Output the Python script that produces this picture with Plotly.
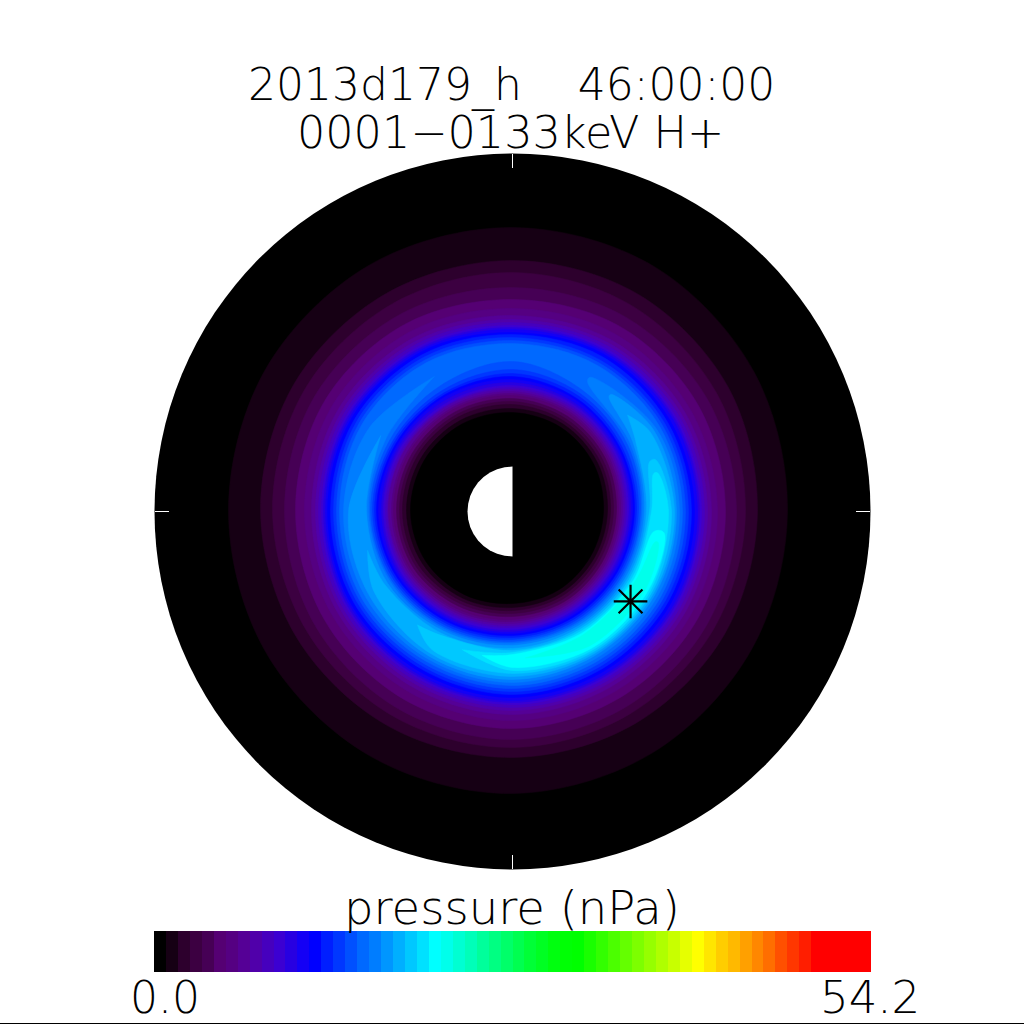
import plotly.graph_objects as go

# Azimuth samples (deg, counter-clockwise from east) for the closed contours
angles = [0, 30, 60, 90, 120, 150, 180, 210, 240, 270, 300, 330]

# Outer boundary of each pressure level (radial units = image scale, edge 358)
outer_1 = [275, 279, 283, 284, 285, 285, 284, 284, 283, 282, 279, 276]
outer_2 = [245, 249, 251, 251, 252, 253, 252, 250, 248, 246, 245, 245]
outer_3 = [233, 236, 238, 239, 240, 241, 240, 238, 237, 236, 234, 233]
outer_4 = [224, 225, 225, 224, 227, 229, 228, 228, 228, 228, 226, 225]
outer_5 = [213, 214, 214, 212, 216, 218, 217, 217, 217, 217, 215, 214]
outer_6 = [205, 205, 205, 203, 207, 209, 208, 208, 208, 209, 207, 206]
outer_7 = [199, 199, 198, 196, 200, 202, 201, 202, 202, 203, 201, 200]
outer_8 = [195, 195, 194, 192, 196, 198, 197, 198, 198, 199, 197, 196]
outer_9 = [192, 192, 191, 189, 193, 195, 194, 195, 195, 196, 194, 193]
outer_10 = [189, 189, 188, 186, 190, 192, 191, 192, 192, 193, 191, 190]
outer_11 = [187, 187, 186, 184, 188, 190, 189, 190, 190, 191, 189, 188]
outer_12 = [185, 185, 184, 182, 186, 188, 187, 188, 188, 189, 187, 186]
outer_13 = [182, 182, 182, 179, 184, 186, 185, 186, 185, 186, 184, 183]
outer_14 = [179, 179, 179, 177, 181, 183, 182, 183, 182, 183, 181, 180]
outer_15 = [176, 176, 175, 174, 178, 180, 179, 180, 179, 180, 178, 177]
outer_16 = [173, 173, 172, 171, 175, 177, 176, 177, 176, 177, 175, 174]
outer_17 = [170, 170, 169, 168, 172, 174, 173, 174, 173, 174, 172, 171]
outer_levels = [outer_1, outer_2, outer_3, outer_4, outer_5, outer_6, outer_7, outer_8, outer_9,
                outer_10, outer_11, outer_12, outer_13, outer_14, outer_15, outer_16, outer_17]

# Inner boundary of each pressure level
inner_1 = [91, 94, 97, 99, 101, 102, 102, 100, 96, 92, 91, 90]
inner_2 = [95, 98, 101, 103, 105, 106, 106, 104, 100, 96, 95, 94]
inner_3 = [98, 101, 104, 107, 109, 110, 110, 108, 103, 99, 98, 97]
inner_4 = [101, 104, 107, 110, 112, 113, 113, 111, 106, 102, 101, 100]
inner_5 = [104, 107, 110, 113, 115, 116, 116, 114, 109, 105, 104, 103]
inner_6 = [106, 109, 113, 116, 118, 119, 119, 117, 112, 108, 106, 105]
inner_7 = [108, 111, 115, 118, 120, 121, 121, 119, 114, 110, 108, 107]
inner_8 = [110, 113, 117, 120, 122, 124, 124, 121, 116, 112, 110, 109]
inner_9 = [112, 115, 119, 122, 124, 125, 125, 123, 118, 114, 112, 111]
inner_10 = [114, 117, 121, 124, 125, 127, 127, 125, 120, 116, 114, 113]
inner_11 = [116, 119, 123, 126, 127, 129, 129, 127, 122, 118, 116, 115]
inner_12 = [118, 121, 125, 129, 130, 131, 131, 129, 124, 120, 118, 117]
inner_13 = [120, 123, 128, 132, 133, 133, 134, 131, 126, 122, 120, 119]
inner_14 = [122, 125, 130, 135, 135, 135, 136, 133, 128, 124, 122, 121]
inner_15 = [124, 127, 133, 138, 137, 137, 138, 135, 130, 126, 124, 123]
inner_16 = [126, 130, 136, 142, 140, 139, 140, 137, 132, 128, 126, 125]
inner_17 = [128, 133, 140, 150, 145, 142, 142, 139, 134, 130, 128, 127]
inner_levels = [inner_1, inner_2, inner_3, inner_4, inner_5, inner_6, inner_7, inner_8, inner_9,
                inner_10, inner_11, inner_12, inner_13, inner_14, inner_15, inner_16, inner_17]

# Crescents of the levels that exist on only part of the ring: level, azimuths, outer, inner
crescent_18 = (18, [120, 150, 180, 210, 240, 270, 300, 330, 360, 390, 420],
               [156, 166, 169, 170, 170, 171, 169, 168, 167, 166, 155],
               [156, 146, 144, 141, 136, 132, 130, 129, 130, 136, 150])
crescent_19 = (19, [150, 180, 210, 240, 270, 300, 330, 360, 390, 410],
               [152, 164, 166, 167, 168, 166, 165, 164, 163, 153],
               [152, 146, 144, 138, 134, 132, 131, 132, 139, 150])
crescent_20 = (20, [195, 210, 240, 270, 300, 330, 360, 390, 400],
               [150, 160, 164, 165, 164, 163, 162, 159, 150],
               [150, 147, 141, 137, 134, 133, 134, 142, 150])
crescent_21 = (21, [230, 240, 270, 300, 330, 360, 380],
               [148, 160, 162, 162, 161, 159, 152],
               [148, 143, 139, 136, 135, 137, 146])
crescent_22 = (22, [250, 270, 300, 330, 360, 375],
               [147, 159, 160, 159, 156, 150],
               [147, 141, 138, 137, 139, 146])
crescent_23 = (23, [258, 270, 300, 330, 352],
               [147, 156, 158, 157, 153],
               [147, 143, 140, 139, 143])
crescent_24 = (24, [275, 300, 330, 348],
               [147, 155, 154, 149],
               [147, 142, 141, 146])
crescents = [crescent_18, crescent_19, crescent_20, crescent_21, crescent_22, crescent_23, crescent_24]

# Colour table of the 60 pressure levels
level_colors = [
    "#000000", "#160014", "#2d002d", "#3c0041", "#460055", "#550073", "#550082", "#550096", "#5000aa", "#4600be",
    "#3c00d2", "#2800e1", "#1400f5", "#0000ff", "#001eff", "#0037ff", "#0050ff", "#0069ff", "#007dff", "#0096ff",
    "#00afff", "#00c8ff", "#00e1ff", "#00ffff", "#00ffeb", "#00ffd2", "#00ffb9", "#00ff9b", "#00ff82", "#00ff69",
    "#00ff50", "#00ff37", "#00ff23", "#00ff0f", "#00ff05", "#00ff00", "#19ff00", "#32ff00", "#4bff00", "#64ff00",
    "#7dff00", "#96ff00", "#afff00", "#c8ff00", "#e6ff00", "#ffff00", "#ffe600", "#ffcd00", "#ffb900", "#ffa000",
    "#ff8700", "#ff6e00", "#ff5000", "#ff3700", "#ff1e00", "#ff0000", "#ff0000", "#ff0000", "#ff0000", "#ff0000",
]
colorbar_levels = list(range(60))

earth_r = [0, 45, 45, 45, 45, 45, 45, 45, 45, 45, 45, 45, 45, 45, 45, 45, 45, 45, 45, 45, 0]
earth_theta = [0, 90, 100, 110, 120, 130, 140, 150, 160, 170, 180, 190, 200, 210, 220, 230, 240, 250, 260, 270, 0]

satellite_r = [148.4]
satellite_theta = [322.7]

title_line_1 = "2013d179_h\u00a0\u00a0\u00a0\u00a046:00:00"
title_line_2 = "0001\u22120133keV H+"
colorbar_title = "pressure (nPa)"
colorbar_min = "0.0"
colorbar_max = "54.2"

R_MAX = 358
W = 1024
CX, CY = 512.5, 511.5
FONT = "DejaVu Sans"


def band(r, theta, color, shape="spline"):
    return go.Scatterpolar(r=r, theta=theta, mode="lines", fill="toself", fillcolor=color,
                           line=dict(color=color, width=0.5, shape=shape, smoothing=1.0),
                           hoverinfo="skip", showlegend=False)


fig = go.Figure()

# rising side of the ring: outer contours, lowest level first
for k, r in enumerate(outer_levels, start=1):
    fig.add_trace(band(r + r[:1], angles + [360], level_colors[k]))
# partial crescents around the ridge
for k, th, ro, ri in crescents:
    fig.add_trace(band(ro + ri[::-1] + ro[:1], th + th[::-1] + th[:1], level_colors[k]))
# falling side: inner contours, highest level first
for k, r in reversed(list(enumerate(inner_levels, start=1))):
    fig.add_trace(band(r + r[:1], angles + [360], level_colors[k - 1]))

fig.add_trace(go.Scatterpolar(r=earth_r, theta=earth_theta, mode="lines", fill="toself", fillcolor="#ffffff",
                              line=dict(color="#ffffff", width=0), hoverinfo="skip", showlegend=False))
fig.add_trace(go.Scatterpolar(r=satellite_r, theta=satellite_theta, mode="markers",
                              marker=dict(symbol="asterisk-open", size=28, color="#000000",
                                          line=dict(color="#000000", width=2.2)),
                              hoverinfo="skip", showlegend=False))

fig.add_trace(go.Heatmap(z=[colorbar_levels], x=colorbar_levels, y=[0], zmin=0, zmax=59,
                         colorscale=[[i / 59, c] for i, c in enumerate(level_colors)],
                         showscale=False, hoverinfo="skip", xaxis="x", yaxis="y"))

def text(x, y, s, size):
    fig.add_annotation(xref="paper", yref="paper", x=x / W, y=1 - y / W, text=s, showarrow=False,
                       xanchor="center", yanchor="middle", borderpad=0,
                       font=dict(family=FONT, size=size, color="#000000", weight=200))


text(511.5, 85, title_line_1, 44)
text(510, 132, title_line_2, 44.5)
text(511.5, 908, colorbar_title, 46.5)
text(164.5, 997, colorbar_min, 44)
text(869.5, 997, colorbar_max, 45)

fig.update_layout(
    width=W, height=W, margin=dict(l=0, r=0, t=0, b=0), paper_bgcolor="#ffffff", plot_bgcolor="#ffffff",
    showlegend=False,
    polar=dict(
        domain=dict(x=[(CX - R_MAX) / W, (CX + R_MAX) / W], y=[1 - (CY + R_MAX) / W, 1 - (CY - R_MAX) / W]),
        bgcolor="#000000",
        radialaxis=dict(range=[0, R_MAX], visible=False),
        angularaxis=dict(tickmode="array", tickvals=[0, 90, 180, 270], ticks="inside", ticklen=14, tickwidth=1,
                         tickcolor="#ffffff", showticklabels=False, showgrid=False, showline=False),
    ),
    xaxis=dict(domain=[154 / W, 871 / W], range=[-0.5, 59.5], visible=False),
    yaxis=dict(domain=[1 - 972 / W, 1 - 931 / W], range=[-0.5, 0.5], visible=False),
    shapes=[dict(type="line", xref="paper", yref="paper", x0=0, x1=1, y0=1 - 1023.5 / W, y1=1 - 1023.5 / W,
                 line=dict(color="#000000", width=1))],
)

fig.write_html("out.html", config=dict(displayModeBar=False),
               post_script="document.body.style.margin='0';document.documentElement.style.overflow='hidden';")
